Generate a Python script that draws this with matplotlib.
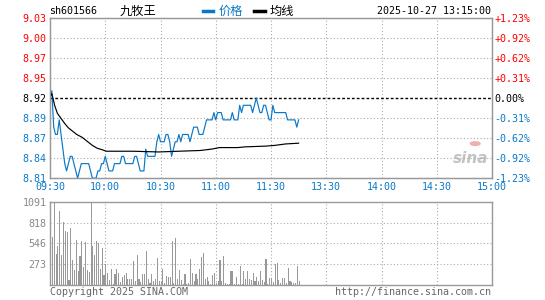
import matplotlib as mpl
mpl.use("Agg")
import matplotlib.pyplot as pp
from matplotlib.lines import Line2D
from matplotlib.patches import Circle

# ---- data ----
prev_close = 8.92

# one price per minute, 09:30 .. 11:30 then 13:01 .. 13:15 (minute index 0..135)
price = [8.92, 8.93, 8.88, 8.87, 8.87, 8.89, 8.87, 8.85, 8.83, 8.82,
         8.83, 8.84, 8.84, 8.83, 8.82, 8.81, 8.82, 8.83, 8.83, 8.83,
         8.83, 8.83, 8.82, 8.81, 8.81, 8.81, 8.82, 8.82, 8.83, 8.83,
         8.84, 8.83, 8.82, 8.82, 8.82, 8.83, 8.83, 8.83, 8.83, 8.84,
         8.84, 8.83, 8.83, 8.83, 8.83, 8.83, 8.84, 8.84, 8.83, 8.82,
         8.82, 8.82, 8.85, 8.84, 8.84, 8.84, 8.84, 8.84, 8.86, 8.87,
         8.86, 8.86, 8.86, 8.87, 8.87, 8.86, 8.84, 8.85, 8.86, 8.86,
         8.87, 8.86, 8.87, 8.87, 8.87, 8.87, 8.86, 8.87, 8.88, 8.88,
         8.88, 8.87, 8.87, 8.87, 8.88, 8.89, 8.89, 8.89, 8.89, 8.90,
         8.89, 8.90, 8.90, 8.90, 8.89, 8.89, 8.89, 8.89, 8.89, 8.90,
         8.89, 8.89, 8.89, 8.91, 8.90, 8.91, 8.91, 8.91, 8.91, 8.91,
         8.90, 8.91, 8.92, 8.91, 8.90, 8.90, 8.91, 8.91, 8.90, 8.89,
         8.89, 8.91, 8.90, 8.90, 8.90, 8.90, 8.90, 8.90, 8.90, 8.89,
         8.89, 8.89, 8.89, 8.89, 8.88, 8.89]

volume = [188, 631, 1091, 407, 508, 977, 399, 828, 714, 696,
          66, 749, 333, 201, 591, 188, 385, 583, 237, 565,
          201, 171, 1091, 517, 390, 583, 552, 215, 486, 127,
          280, 158, 70, 215, 13, 145, 210, 153, 39, 110,
          136, 158, 83, 83, 83, 315, 57, 390, 79, 39,
          145, 145, 451, 79, 26, 145, 57, 79, 355, 48,
          39, 210, 26, 118, 105, 105, 583, 26, 618, 83,
          201, 66, 13, 145, 13, 26, 342, 158, 48, 145,
          83, 210, 368, 421, 83, 105, 57, 13, 127, 158,
          26, 48, 329, 48, 381, 26, 13, 13, 184, 184,
          13, 105, 13, 245, 13, 184, 83, 184, 83, 66,
          153, 48, 110, 48, 184, 66, 39, 342, 13, 92,
          87, 40, 276, 290, 70, 20, 87, 87, 20, 218,
          50, 35, 20, 20, 249, 52]

# average line, sampled at (minute, value)
avg_min = [0, 1, 2.5, 4, 6, 8, 10, 12, 14.5, 17.5, 20, 23, 25.7, 28.4, 30.5,
           45, 59, 70, 81.5, 88, 92, 102, 106, 117, 122, 128, 135]
avg_val = [8.922, 8.926, 8.910, 8.899, 8.892, 8.885, 8.879, 8.875, 8.870, 8.866,
           8.861, 8.855, 8.851, 8.849, 8.847, 8.847, 8.846, 8.847, 8.848, 8.850,
           8.852, 8.852, 8.853, 8.854, 8.855, 8.857, 8.858]

time_labels = ["09:30", "10:00", "10:30", "11:00", "11:30", "13:30", "14:00", "14:30", "15:00"]
price_labels = ["8.81", "8.84", "8.87", "8.89", "8.92", "8.95", "8.97", "9.00", "9.03"]
pct_labels = ["-1.23%", "-0.92%", "-0.62%", "-0.31%", "0.00%", "+0.31%", "+0.62%", "+0.92%", "+1.23%"]
vol_ticks = [273, 546, 818, 1091]
vol_labels = ["273", "546", "818", "1091"]

W, H = 545, 300
RED = "#ff0000"
BLUE = "#0a78c8"
GRAY = "#999999"
MONO = "DejaVu Sans Mono"
FS = 7.2

pp.rcParams["font.family"] = [MONO, "Noto Sans CJK SC"]
fig = pp.figure(figsize=(W / 100, H / 100), dpi=100)


def fx(x):
    return x / W


def fy(y):
    return 1 - y / H


# ---- price panel ----
ax = fig.add_axes([fx(50), fy(178), fx(442), 160 / H])
rng = 0.0123
ticks = [prev_close * (1 + rng * k / 4) for k in range(-4, 5)]
ax.set_xlim(0, 240)
ax.set_ylim(ticks[0], ticks[-1])
for s in ax.spines.values():
    s.set_color(GRAY)
    s.set_linewidth(1)

dot = (0, (1, 2))
for t in ticks[1:-1]:
    if abs(t - prev_close) > 1e-6:
        ax.axhline(t, color="#aaaaaa", lw=0.8, linestyle=dot, zorder=1)
for m in range(30, 240, 30):
    ax.axvline(m, color="#aaaaaa", lw=0.8, linestyle=dot, zorder=1)
ax.axhline(prev_close, color="black", lw=1, dashes=(2, 1.5), zorder=2)

ax.plot(range(len(price)), price, color=BLUE, lw=0.85, zorder=3)
ax.plot(avg_min, avg_val, color="black", lw=0.85, zorder=4)

ax.set_xticks(range(0, 241, 30))
ax.set_xticklabels(time_labels, color=BLUE, fontsize=FS, family=MONO)
ax.set_yticks(ticks)
ax.set_yticklabels(price_labels, fontsize=FS, family=MONO)
ax.tick_params(length=0, pad=2.5)
ax.tick_params(axis="x", pad=3)
for i, lab in enumerate(ax.get_yticklabels()):
    lab.set_color(RED if i > 4 else ("black" if i == 4 else BLUE))

axr = ax.twinx()
axr.set_ylim(ticks[0], ticks[-1])
axr.set_yticks(ticks)
axr.set_yticklabels(pct_labels, fontsize=FS, family=MONO)
axr.tick_params(length=0, pad=1.5)
for s in axr.spines.values():
    s.set_color(GRAY)
for i, lab in enumerate(axr.get_yticklabels()):
    lab.set_color(RED if i > 4 else ("black" if i == 4 else BLUE))

# sina watermark
ax.text(0.952, 0.12, "sina", transform=ax.transAxes, ha="center", va="center",
        fontsize=11, fontweight="bold", style="italic", color="#c4c4c4",
        family="DejaVu Sans", zorder=0)
ax.add_patch(Circle((0.962, 0.215), 0.011, transform=ax.transAxes, color="#f0b0b0", zorder=0))

# ---- volume panel ----
axv = fig.add_axes([fx(50), fy(285), fx(442), 83 / H])
axv.set_xlim(0, 240)
axv.set_ylim(0, 1091)
for s in axv.spines.values():
    s.set_color(GRAY)
    s.set_linewidth(1)
for v in vol_ticks[:-1]:
    axv.axhline(v, color="#aaaaaa", lw=0.8, linestyle=dot, zorder=1)
for m in range(30, 240, 30):
    axv.axvline(m, color="#aaaaaa", lw=0.8, linestyle=dot, zorder=1)
axv.bar(range(len(volume)), volume, width=0.6, align="edge", color=GRAY, zorder=2)
axv.set_xticks([])
axv.set_yticks(vol_ticks)
axv.set_yticklabels(vol_labels, color="#888888", fontsize=FS, family=MONO)
axv.tick_params(length=0, pad=2.5)

# ---- header / footer texts ----
fig.text(fx(49), fy(11), "sh601566", fontsize=FS, family=MONO, va="center", ha="left")
fig.text(fx(120), fy(11), "九牧王", fontsize=8.8, family=["Noto Sans CJK SC"], va="center", ha="left")
fig.add_artist(Line2D([fx(203), fx(213)], [fy(11), fy(11)], color=BLUE, lw=2.5))
fig.text(fx(219), fy(11), "价格", fontsize=8.8, family=["Noto Sans CJK SC"], color=BLUE, va="center", ha="left")
fig.add_artist(Line2D([fx(254), fx(265)], [fy(11), fy(11)], color="black", lw=2.5))
fig.text(fx(270), fy(11), "均线", fontsize=8.8, family=["Noto Sans CJK SC"], va="center", ha="left")
fig.text(fx(491), fy(11), "2025-10-27 13:15:00", fontsize=FS, family=MONO, va="center", ha="right")

fig.text(fx(50), fy(292), "Copyright 2025 SINA.COM", fontsize=FS, family=MONO, color="#666666", va="center", ha="left")
fig.text(fx(491), fy(292), "http://finance.sina.com.cn", fontsize=FS, family=MONO, color="#666666", va="center", ha="right")

fig.savefig("out.png", dpi=100)
